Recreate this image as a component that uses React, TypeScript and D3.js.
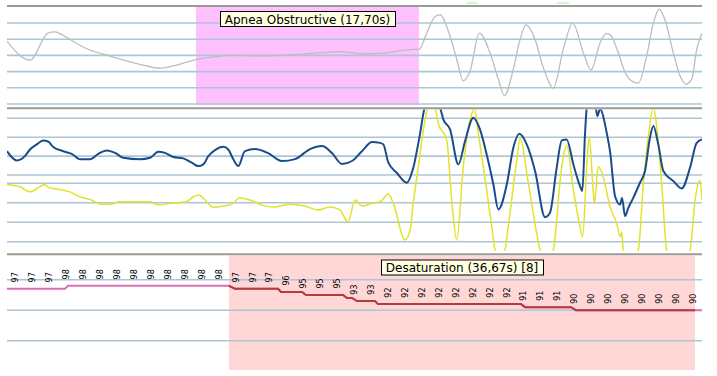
import React, { useEffect, useRef } from 'react';
import * as d3 from 'd3';

const W = 717;
const H = 376;
const WINDOW_SECONDS = 55;

// ---- Airflow channel (gray), time in s, amplitude in grid units
const flowT = [0, 1.82, 3.24, 3.8, 4.35, 4.99, 6.31, 8.15, 10.53, 12.11, 13.14, 14.72, 16.6, 17.9, 20.26, 22.93, 25.56, 26.35, 28.17, 30.05, 32.13, 32.61, 33.22, 33.87, 34.27, 35.06, 35.59, 36.11, 36.64, 37.38, 38.22, 38.88, 39.36, 40.07, 40.6, 41.07, 41.79, 42.32, 42.84, 43.23, 44.02, 44.77, 45.61, 46.22, 46.93, 47.4, 47.72, 48.38, 48.91, 49.56, 49.96, 50.62, 51.15, 51.62, 52.07, 52.73, 53.26, 53.73, 54.19, 54.58, 55.0];
const flowV = [0.87, -0.29, 1.38, 1.45, 1.28, 0.98, 0.41, -0.04, -0.55, -0.79, -0.65, -0.3, -0.08, 0, -0.04, 0.06, 0.2, 0.23, 0.1, 0.16, 0.37, 0.37, 1.38, 2.4, 2.5, 1.18, -0.24, -1.57, -0.98, 1.38, 0.16, -1.46, -2.48, -0.85, 0.98, 1.89, 0.98, -0.45, -1.57, -2.03, 0.37, 1.99, 0.16, -0.9, 0.77, 1.34, 1.28, 0.16, -1.05, -1.63, -1.71, -0.04, 1.99, 2.85, 2.2, 0.16, -1.26, -1.77, -1.46, 0.37, 1.38];

// ---- Thoracic effort (blue)
const thoT = [0, 0.77, 1.42, 1.82, 2.35, 2.87, 3.27, 3.66, 4.46, 5.12, 5.78, 6.57, 7.23, 7.89, 8.55, 9.2, 10.53, 11.32, 11.97, 12.5, 13.16, 13.95, 14.62, 15.14, 15.54, 15.93, 16.46, 17.12, 17.51, 17.91, 18.3, 18.83, 19.63, 20.66, 21.76, 22.79, 23.98, 24.93, 25.72, 26.51, 27.3, 28.09, 28.89, 29.52, 29.78, 30.18, 30.84, 31.63, 32.15, 32.68, 33.08, 33.63, 34.27, 34.53, 35.06, 35.72, 36.25, 36.9, 37.43, 37.96, 38.49, 38.88, 39.55, 40.07, 40.54, 41.13, 41.79, 42.58, 42.97, 43.5, 43.9, 44.29, 44.82, 45.35, 45.53, 45.74, 45.88, 46.14, 46.61, 46.72, 46.93, 47.46, 47.72, 48.12, 48.52, 48.67, 48.91, 49.17, 49.56, 50.09, 50.49, 50.88, 51.15, 51.54, 51.94, 52.73, 53.4, 54.05, 54.58, 55.0];
const thoV = [0.26, -0.23, 0, 0.35, 0.62, 0.83, 0.76, 0.48, 0.26, 0.12, -0.17, -0.17, 0.12, 0.3, 0.17, -0.09, -0.17, -0.09, 0.23, 0.17, -0.05, -0.12, -0.35, -0.53, -0.44, 0, 0.32, 0.49, 0.35, -0.17, -0.53, 0.26, 0.37, 0.16, -0.26, -0.16, 0.37, 0.53, 0.16, -0.42, -0.26, 0.26, 0.74, 0.7, 0.62, -0.35, -0.88, -1.41, -0.62, 1.15, 2.6, 2.9, 2.54, 1.94, 1.41, -0.44, 0.79, 2.03, 1.41, 0.09, -1.5, -2.82, -1.5, 0.44, 1.18, 0.62, -0.79, -3.23, -3.0, -0.62, 0.83, 0.88, -0.44, -1.59, -1.85, 1.15, 2.56, 3.2, 2.49, 2.12, 2.49, 1.23, 0.26, -2.12, -2.56, -2.22, -3.17, -2.74, -2.21, -1.41, -0.79, 0.97, 1.59, 0.62, -0.79, -1.32, -1.71, -0.62, 0.7, 0.88];

// ---- Abdominal effort (yellow)
const abdT = [0, 1.03, 1.82, 3.01, 3.27, 4.06, 4.99, 5.78, 6.57, 7.49, 8.15, 8.94, 11.32, 11.97, 12.9, 14.22, 14.74, 15.22, 15.67, 16.33, 17.12, 17.91, 18.38, 19.23, 20.18, 21.21, 22.4, 23.58, 24.61, 25.56, 26.35, 26.99, 27.54, 28.09, 28.89, 29.52, 30.18, 30.57, 31.5, 31.9, 32.15, 32.55, 33.08, 33.42, 33.79, 34.13, 34.8, 35.19, 35.59, 36.11, 36.78, 36.99, 37.3, 37.96, 38.36, 38.62, 39.0, 39.41, 39.67, 40.34, 40.6, 41.26, 41.92, 42.18, 42.74, 43.23, 43.9, 44.29, 44.82, 45.35, 45.56, 45.88, 46.08, 46.35, 46.48, 46.79, 47.19, 47.72, 48.25, 48.52, 48.64, 48.78, 49.3, 49.96, 50.36, 50.75, 51.15, 51.42, 51.81, 52.21, 53.1, 54.05, 54.45, 54.84, 55.0];
const abdV = [0.94, 0.82, 0.56, 0.94, 0.79, 0.69, 0.56, 0.31, 0.17, -0.08, -0.08, 0.05, 0.05, -0.12, -0.03, 0.05, 0.31, 0.39, 0.14, -0.24, -0.17, -0.03, 0.26, 0.14, -0.12, -0.22, -0.07, -0.17, -0.37, -0.22, -0.37, -0.99, 0.14, -0.17, -0.02, 0.05, 0.45, -0.03, -1.91, -1.4, -0.03, 1.85, 4.24, 5.2, 5.1, 4.07, 3.22, 0.14, -1.91, 1.85, 4.58, 4.84, 3.56, 0.65, -1.23, -2.43, -3.05, -2.43, -1.23, 2.19, 3.3, 0.99, -1.57, -2.43, -3.05, -2.43, 1.85, 2.96, 0.65, -1.23, -1.74, 1.85, 3.38, 0.99, -0.03, 1.85, 1.33, -0.21, -1.06, -1.74, -1.5, -2.43, -3.05, -2.43, 0.99, 3.38, 4.92, 3.9, 0.99, -2.43, -3.35, -2.43, 0.14, 1.16, 0.14];

// ---- SpO2 trace (%)
const spo2T = [0, 4.59, 4.83, 17.57, 18.04, 21.45, 21.68, 23.35, 23.66, 26.59, 26.91, 27.3, 27.7, 29.12, 29.36, 40.68, 41.0, 44.63, 45.02, 55];
const spo2V = [97, 97, 98, 98, 97, 97, 96, 96, 95, 95, 94, 94, 93, 93, 92, 92, 91, 91, 90, 90];

// ---- SpO2 value labels (one per sample)
const spo2Labels = [97, 97, 97, 98, 98, 98, 98, 98, 98, 98, 98, 98, 98, 97, 97, 97, 96, 95, 95, 95, 93, 93, 92, 92, 92, 92, 92, 92, 92, 92, 91, 91, 91, 90, 90, 90, 90, 90, 90, 90, 90];
const SPO2_LABEL_T0 = 0.71;
const SPO2_LABEL_DT = 1.34;

// ---- Scored events
const eventLabels = ['Apnea Obstructive (17,70s)', 'Desaturation (36,67s) [8]'];
const eventStart = [14.96, 17.57];
const eventEnd = [32.6, 54.45];
const eventPanel = [0, 2];
const eventFill = ['#ffc0ff', '#ffd7d7'];

// ---- Marks of the channel above (cut off)
const aboveStart = [36.38, 43.5];
const aboveEnd = [37.22, 44.48];

// ---- Grid levels
const flowGrid = [2, 1, 0, -1, -2, -3];
const thoGrid = [2, 1, 0, -1];
const abdGrid = [1, 0, -1, -2];
const spo2Grid = [100, 90, 80];

export default function App() {
  const ref = useRef<SVGSVGElement>(null);

  useEffect(() => {
    const svg = d3.select(ref.current);
    svg.selectAll('*').remove();

    const L = 7, R = 702;
    const panels = [
      { border: 6, top: 7, bottom: 105 },
      { border: 108.2, top: 109.5, bottom: 251 },
      { border: 254.3, top: 255.5, bottom: 370 },
    ];

    const x = d3.scaleLinear().domain([0, WINDOW_SECONDS]).range([L, R]);
    const yFlow = d3.scaleLinear().domain([-3, 2]).range([104, 23]);
    const yTho = d3.scaleLinear().domain([-1, 2]).range([175, 118.3]);
    const yAbd = d3.scaleLinear().domain([-2, 1]).range([241.7, 183.3]);
    const ySp = d3.scaleLinear().domain([80, 100]).range([340.7, 279.7]);

    svg.append('rect').attr('width', W).attr('height', H).attr('fill', '#fff');

    const defs = svg.append('defs');
    panels.forEach((p, i) => {
      defs.append('clipPath').attr('id', `clip${i}`)
        .append('rect').attr('x', L).attr('y', p.top).attr('width', R - L).attr('height', p.bottom - p.top);
    });
    defs.append('clipPath').attr('id', 'clipDesat')
      .append('rect').attr('x', x(eventStart[1])).attr('y', panels[2].top)
      .attr('width', x(eventEnd[1]) - x(eventStart[1])).attr('height', panels[2].bottom - panels[2].top);

    // event regions
    eventLabels.forEach((_, i) => {
      const p = panels[eventPanel[i]];
      svg.append('rect')
        .attr('x', x(eventStart[i])).attr('y', p.top)
        .attr('width', x(eventEnd[i]) - x(eventStart[i]))
        .attr('height', p.bottom - p.top)
        .attr('fill', eventFill[i]);
    });

    // grid lines
    const grid = svg.append('g').attr('stroke', '#adc6d6').attr('stroke-width', 1.6);
    const hline = (y: number) => grid.append('line').attr('x1', L).attr('x2', R).attr('y1', y).attr('y2', y);
    flowGrid.forEach(v => hline(yFlow(v)));
    thoGrid.forEach(v => hline(yTho(v)));
    abdGrid.forEach(v => hline(yAbd(v)));
    spo2Grid.forEach(v => hline(ySp(v)));

    // panel borders
    panels.forEach(p => {
      svg.append('line').attr('x1', L).attr('x2', R).attr('y1', p.border).attr('y2', p.border)
        .attr('stroke', '#9c9a96').attr('stroke-width', 2);
    });

    // marks of channel above
    aboveStart.forEach((s, i) => {
      svg.append('line').attr('x1', x(s)).attr('x2', x(aboveEnd[i])).attr('y1', 3).attr('y2', 3)
        .attr('stroke', '#b4ecb4').attr('stroke-width', 1.2);
    });

    const mk = (ts: number[], vs: number[], ys: d3.ScaleLinear<number, number>, curve: d3.CurveFactory) =>
      d3.line<number>().x((_, i) => x(ts[i])).y(v => ys(v)).curve(curve)(vs) as string;

    // airflow
    svg.append('path').attr('d', mk(flowT, flowV, yFlow, d3.curveMonotoneX))
      .attr('fill', 'none').attr('stroke', '#bdbdbd').attr('stroke-width', 1.3)
      .attr('clip-path', 'url(#clip0)');

    // abdominal (yellow)
    svg.append('path').attr('d', mk(abdT, abdV, yAbd, d3.curveMonotoneX))
      .attr('fill', 'none').attr('stroke', '#e2e22a').attr('stroke-width', 1.5)
      .attr('clip-path', 'url(#clip1)');

    // thoracic (blue)
    svg.append('path').attr('d', mk(thoT, thoV, yTho, d3.curveMonotoneX))
      .attr('fill', 'none').attr('stroke', '#1b4c8a').attr('stroke-width', 2)
      .attr('clip-path', 'url(#clip1)');

    // SpO2 line
    const spPath = mk(spo2T, spo2V, ySp, d3.curveLinear);
    svg.append('path').attr('d', spPath)
      .attr('fill', 'none').attr('stroke', '#dc6cb6').attr('stroke-width', 2)
      .attr('clip-path', 'url(#clip2)');
    svg.append('path').attr('d', spPath)
      .attr('fill', 'none').attr('stroke', '#b53c3c').attr('stroke-width', 2)
      .attr('clip-path', 'url(#clipDesat)');

    // SpO2 labels (rotated)
    const lab = svg.append('g').attr('font-family', '"DejaVu Sans", Verdana, sans-serif')
      .attr('font-size', 8).attr('fill', '#000');
    spo2Labels.forEach((v, i) => {
      const cx = x(SPO2_LABEL_T0 + i * SPO2_LABEL_DT);
      const cy = ySp(v) - 11.5;
      lab.append('text')
        .attr('transform', `translate(${cx},${cy}) rotate(-90)`)
        .attr('text-anchor', 'middle')
        .attr('dominant-baseline', 'central')
        .text(String(v));
    });

    // event labels
    eventLabels.forEach((t, i) => {
      const p = panels[eventPanel[i]];
      const cx = (x(eventStart[i]) + x(eventEnd[i])) / 2;
      const g = svg.append('g');
      const rect = g.append('rect');
      const txt = g.append('text')
        .attr('x', cx).attr('y', p.top + 16.5)
        .attr('text-anchor', 'middle')
        .attr('font-family', '"DejaVu Sans", Verdana, sans-serif')
        .attr('font-size', 12)
        .attr('fill', '#000')
        .text(t);
      const bb = (txt.node() as SVGTextElement).getBBox();
      rect.attr('x', Math.round(bb.x - 5) + 0.5).attr('y', p.top + 4.5)
        .attr('width', Math.round(bb.width + 10)).attr('height', 15)
        .attr('fill', '#ffffe1').attr('stroke', '#000').attr('stroke-width', 1);
    });
  }, []);

  return (
    <svg ref={ref} width={W} height={H}
      style={{ position: 'absolute', left: 0, top: 0, display: 'block', background: '#fff' }} />
  );
}
